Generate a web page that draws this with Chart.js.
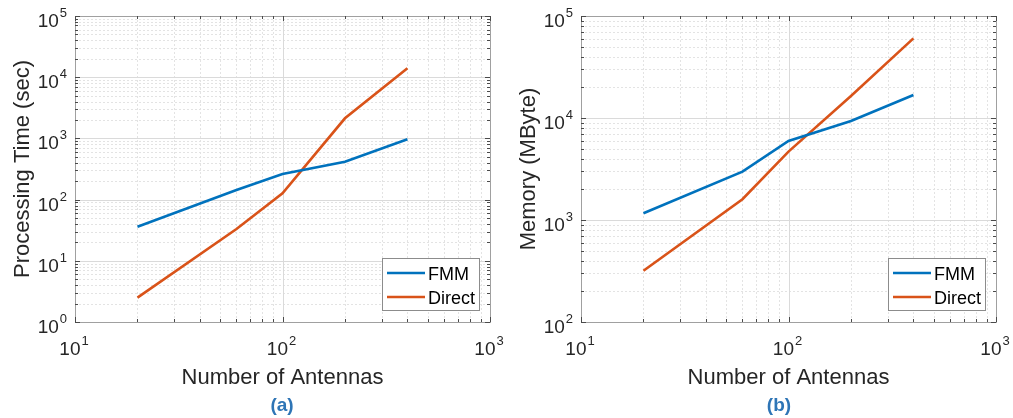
<!DOCTYPE html>
<html>
<head>
<meta charset="utf-8">
<script src="https://cdn.jsdelivr.net/npm/chart.js@4/dist/chart.umd.min.js"></script>
<style>
  body { margin: 0; background: #fff; }
  #wrap { position: relative; width: 1013px; height: 418px; }
  canvas { position: absolute; top: 0; }
</style>
</head>
<body>
<div id="wrap">
  <canvas id="chartA" width="506" height="418" style="left:0"></canvas>
  <canvas id="chartB" width="507" height="418" style="left:506px"></canvas>
</div>
<script>
// number of antennas (x)
const antennas = [20, 60, 100, 200, 400];

// (a) processing time, seconds
const timeFmm = [36, 143, 262, 416, 967];
const timeDirect = [2.5, 33, 127, 2130, 14000];

// (b) memory, MByte
const memFmm = [1164, 2980, 5950, 9350, 16800];
const memDirect = [318, 1600, 4680, 16400, 60400];

const seriesNames = ["FMM", "Direct"];
const seriesColors = ["#0072BD", "#D95319"];

const FONT = "Arial, 'Liberation Sans', Helvetica, sans-serif";
const TEXT = "#262626";

// draw "10^n" label
function drawPow(ctx, exp, x, y, align) {
    ctx.font = "19px " + FONT;
    const wBase = ctx.measureText("10").width;
    ctx.font = "13px " + FONT;
    const wExp = ctx.measureText(String(exp)).width;
    const total = wBase + 1 + wExp;
    let x0 = x;
    if (align === "center") x0 = x - total / 2;
    if (align === "right") x0 = x - total;
    ctx.textAlign = "left";
    ctx.textBaseline = "alphabetic";
    ctx.fillStyle = TEXT;
    ctx.font = "19px " + FONT;
    ctx.fillText("10", x0, y);
    ctx.font = "13px " + FONT;
    ctx.fillText(String(exp), x0 + wBase + 1, y - 10);
}

function decades(min, max) {
    const out = [];
    for (let e = Math.round(Math.log10(min)); e <= Math.round(Math.log10(max)); e++) out.push(e);
    return out;
}

const matlabAxes = {
    id: "matlabAxes",
    beforeDatasetsDraw(chart) {
        const ctx = chart.ctx;
        const a = chart.chartArea;
        const xs = chart.scales.x, ys = chart.scales.y;
        ctx.save();
        // minor grid
        ctx.strokeStyle = "#e3e3e3";
        ctx.lineWidth = 1;
        ctx.setLineDash([2, 2]);
        decades(xs.min, xs.max).forEach(e => {
            for (let m = 2; m <= 9; m++) {
                const v = m * Math.pow(10, e);
                if (v >= xs.max) continue;
                const px = Math.round(xs.getPixelForValue(v)) + 0.5;
                ctx.beginPath(); ctx.moveTo(px, a.top); ctx.lineTo(px, a.bottom); ctx.stroke();
            }
        });
        decades(ys.min, ys.max).forEach(e => {
            for (let m = 2; m <= 9; m++) {
                const v = m * Math.pow(10, e);
                if (v >= ys.max) continue;
                const py = Math.round(ys.getPixelForValue(v)) + 0.5;
                ctx.beginPath(); ctx.moveTo(a.left, py); ctx.lineTo(a.right, py); ctx.stroke();
            }
        });
        // major grid
        ctx.setLineDash([]);
        ctx.strokeStyle = "#dadada";
        decades(xs.min, xs.max).forEach(e => {
            const px = Math.round(xs.getPixelForValue(Math.pow(10, e))) + 0.5;
            ctx.beginPath(); ctx.moveTo(px, a.top); ctx.lineTo(px, a.bottom); ctx.stroke();
        });
        decades(ys.min, ys.max).forEach(e => {
            const py = Math.round(ys.getPixelForValue(Math.pow(10, e))) + 0.5;
            ctx.beginPath(); ctx.moveTo(a.left, py); ctx.lineTo(a.right, py); ctx.stroke();
        });
        ctx.restore();
    },
    afterDatasetsDraw(chart, args, opts) {
        const ctx = chart.ctx;
        const a = chart.chartArea;
        const xs = chart.scales.x, ys = chart.scales.y;
        ctx.save();
        // box
        ctx.strokeStyle = "#a0a0a0";
        ctx.lineWidth = 1;
        ctx.strokeRect(Math.round(a.left) + 0.5, Math.round(a.top) + 0.5,
            Math.round(a.right - a.left), Math.round(a.bottom - a.top));
        // ticks
        ctx.strokeStyle = "#4a4a4a";
        decades(xs.min, xs.max).forEach(e => {
            for (let m = 1; m <= 9; m++) {
                const v = m * Math.pow(10, e);
                if (v > xs.max) continue;
                const len = m === 1 ? 5 : 3;
                const px = Math.round(xs.getPixelForValue(v)) + 0.5;
                ctx.beginPath();
                ctx.moveTo(px, a.bottom); ctx.lineTo(px, a.bottom - len);
                ctx.moveTo(px, a.top); ctx.lineTo(px, a.top + len);
                ctx.stroke();
            }
        });
        decades(ys.min, ys.max).forEach(e => {
            for (let m = 1; m <= 9; m++) {
                const v = m * Math.pow(10, e);
                if (v > ys.max) continue;
                const len = m === 1 ? 5 : 3;
                const py = Math.round(ys.getPixelForValue(v)) + 0.5;
                ctx.beginPath();
                ctx.moveTo(a.left, py); ctx.lineTo(a.left + len, py);
                ctx.moveTo(a.right, py); ctx.lineTo(a.right - len, py);
                ctx.stroke();
            }
        });
        // tick labels
        decades(xs.min, xs.max).forEach(e => {
            drawPow(ctx, e, xs.getPixelForValue(Math.pow(10, e)) - 1, a.bottom + 33, "center");
        });
        decades(ys.min, ys.max).forEach(e => {
            drawPow(ctx, e, a.left - 8, ys.getPixelForValue(Math.pow(10, e)) + 11, "right");
        });
        // axis titles
        ctx.fillStyle = TEXT;
        ctx.font = "22px " + FONT;
        ctx.textAlign = "center";
        ctx.textBaseline = "alphabetic";
        ctx.fillText(opts.xTitle, (a.left + a.right) / 2, 384);
        ctx.save();
        ctx.translate(29, (a.top + a.bottom) / 2);
        ctx.rotate(-Math.PI / 2);
        ctx.fillText(opts.yTitle, 0, 0);
        ctx.restore();
        // legend
        const lx = a.left + 307, ly = 258, lw = 97, lh = 52;
        ctx.fillStyle = "#fff";
        ctx.fillRect(lx, ly, lw, lh);
        ctx.strokeStyle = "#8c8c8c";
        ctx.lineWidth = 1;
        ctx.strokeRect(lx + 0.5, ly + 0.5, lw, lh);
        chart.data.datasets.forEach((ds, i) => {
            const yy = ly + 15 + i * 24;
            ctx.strokeStyle = ds.borderColor;
            ctx.lineWidth = 2.5;
            ctx.beginPath(); ctx.moveTo(lx + 5, yy); ctx.lineTo(lx + 43, yy); ctx.stroke();
            ctx.fillStyle = "#000";
            ctx.font = "18px " + FONT;
            ctx.textAlign = "left";
            ctx.fillText(ds.label, lx + 46, yy + 6.5);
        });
        // caption
        ctx.fillStyle = "#2E75B6";
        ctx.font = "bold 19px " + FONT;
        ctx.textAlign = "center";
        ctx.fillText(opts.caption, opts.captionX, 411);
        ctx.restore();
    }
};

function makeChart(id, ys, yMin, yMax, yTitle, caption, captionX, padRight) {
    const datasets = ys.map((vals, i) => ({
        label: seriesNames[i],
        data: antennas.map((x, k) => ({ x: x, y: vals[k] })),
        borderColor: seriesColors[i],
        backgroundColor: seriesColors[i],
        borderWidth: 2.6,
        pointRadius: 0,
        tension: 0
    }));
    return new Chart(document.getElementById(id).getContext("2d"), {
        type: "line",
        data: { datasets: datasets },
        plugins: [matlabAxes],
        options: {
            responsive: false,
            animation: false,
            layout: { padding: { top: 16, right: padRight, bottom: 0, left: 0 } },
            scales: {
                x: {
                    type: "logarithmic", min: 10, max: 1000,
                    grid: { display: false }, border: { display: false },
                    ticks: { display: false },
                    afterFit: s => { s.height = 96; }
                },
                y: {
                    type: "logarithmic", min: yMin, max: yMax,
                    grid: { display: false }, border: { display: false },
                    ticks: { display: false },
                    afterFit: s => { s.width = 75; }
                }
            },
            plugins: {
                legend: { display: false },
                tooltip: { enabled: false },
                matlabAxes: { xTitle: "Number of Antennas", yTitle: yTitle, caption: caption, captionX: captionX }
            }
        }
    });
}

makeChart("chartA", [timeFmm, timeDirect], 1, 100000, "Processing Time (sec)", "(a)", 282, 16);
makeChart("chartB", [memFmm, memDirect], 100, 100000, "Memory (MByte)", "(b)", 273, 17);
</script>
</body>
</html>
